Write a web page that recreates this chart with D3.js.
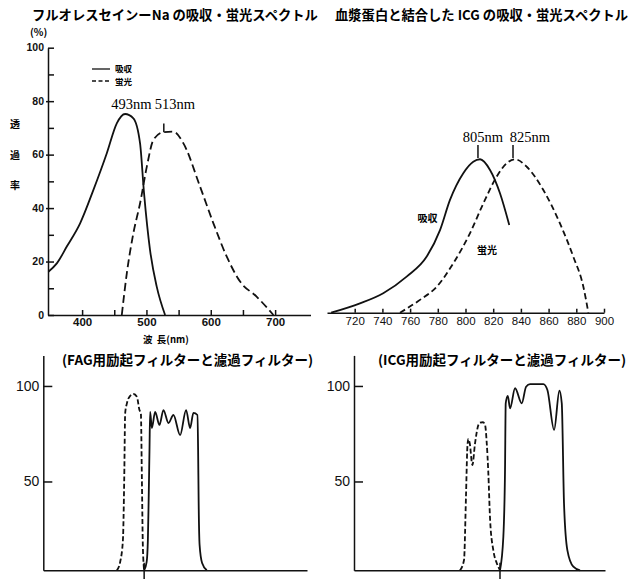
<!DOCTYPE html>
<html>
<head>
<meta charset="utf-8">
<script src="https://cdn.jsdelivr.net/npm/d3@7"></script>
<style>
body { margin: 0; background: #fff; }
svg { display: block; font-family: "Noto Sans CJK JP", "Liberation Sans", sans-serif; }
</style>
</head>
<body>
<div id="chart-area"></div>
<script>
/*
  four panels: fluorescein / ICG spectra on top, filter curves below
  values are [wavelength nm, %]
*/
var flAbs = [[347.6,16.2],[360.7,19.3],[376.2,25.6],[396.9,34.3],[417.6,46.8],[438.4,60.5],[453.9,71.7],
  [466.8,75.2],[479.7,73.6],[490.1,64.2],[496.3,45.5],[505.6,24.3],[516.0,10.6],[529,0]];
var flFluo = [[461.7,0],[469.5,15.6],[479.7,30.6],[490.2,41.9],[500.6,55.5],[510.8,65.5],[526.4,68.4],
  [541.9,68.6],[557.5,64.2],[583.4,48.0],[604.1,34.3],[624.9,21.8],[645.6,12.5],[671.6,6.8],[697.4,0]];
var icgAbs = [[703,0],[723.8,3.5],[740.6,7.3],[757.5,13.5],[772.0,21.0],[781.6,30.9],[788.8,42.2],
  [798.4,52.2],[805.6,56.5],[810.5,57.4],[817.7,53.4],[824.9,44.7],[831.6,32.8]];
var icgFluo = [[752.7,0],[767.1,4.8],[779.2,9.7],[791.2,18.5],[803.2,29.7],[812.9,40.9],[822.5,50.9],
  [829.7,55.9],[835.7,57.4],[844.2,54.6],[856.2,45.9],[868.2,33.4],[877.8,21.0],[885.1,9.7],[888.7,0]];

var fagExc = [[454.4,3.5],[459.6,8.0],[463.8,19.4],[465.8,50.8],[467.3,85.7],[470.0,90.9],[475.1,94.8],
  [480.2,95.8],[485.5,94.4],[489.5,87.4],[491.7,85.7],[493.3,50.8],[494.8,15.9],[496.8,3.5]];
var fagBar = [[496.8,3.5],[500.7,7.9],[502.6,19.4],[503.8,40.3],[505.1,66.5],[506.1,86.4],[508.8,78.0],
  [513.9,86.4],[520.6,79.6],[526.8,87.4],[534.6,80.6],[542.3,84.8],[552.7,74.3],[562.0,87.4],[568.3,78.0],
  [573.4,85.9],[579.6,84.8],[580.7,66.5],[581.5,40.3],[583.0,16.8],[586.9,7.3],[594.2,3.5]];
var icgExc = [[796.0,3.5],[798.9,8.9],[800.3,42],[801.3,68],[802.0,72.3],[803.0,70],[804.9,58.6],
  [806.8,70],[809.2,79.6],[810.4,80.8],[812.5,81],[814.0,79.6],[815.2,70],[816.3,55],[817.6,30],
  [819.9,14],[822.4,7.2],[824.7,3.5]];
var icgBar = [[824.7,3.5],[827.1,21.1],[828.3,56.0],[828.8,90.9],[830.3,94.8],[831.9,88.3],[835.5,98.8],
  [840.3,90.9],[843.4,99.6],[846.3,101],[855.8,101],[858.7,97.9],[863.5,77.0],[867.3,97.5],[869.0,90.9],
  [870.6,38.6],[873.0,14.1],[877.3,5.4],[882.1,3.5]];

var flTicksX = [400, 450, 500, 550, 600, 650, 700];
var icgTicksX = [720, 740, 760, 780, 800, 820, 840, 860, 880, 900];
var pctTicks = [0, 10, 20, 30, 40, 50, 60, 70, 80, 90, 100];
var pctLabels = [0, 20, 40, 60, 80, 100];
var filterTicks = [50, 100];
var flPeaks = ["493nm", "513nm"];
var icgPeaks = ["805nm", "825nm"];
var fagCut = 496.8, icgCut = 824.7;
var baseB = 3.5;

var svg = d3.select("#chart-area").append("svg")
	.attr("width", 630)
	.attr("height", 579);

function curve(g, data, x, y, dash) {
	var line = d3.line().x(function(d){ return x(d[0]); }).y(function(d){ return y(d[1]); })
		.curve(d3.curveMonotoneX);
	g.append("path").attr("d", line(data)).attr("fill", "none")
		.attr("stroke", "#111").attr("stroke-width", 1.8)
		.attr("stroke-dasharray", dash || null);
}
function styleAxis(g) {
	g.selectAll("path, line").attr("stroke", "#111").attr("stroke-width", 1.5);
	g.selectAll("text").attr("fill", "#111");
}

// ---------- top left: fluorescein ----------
var xTL = d3.scaleLinear().domain([347, 755]).range([48, 310.5]);
var yTL = d3.scaleLinear().domain([0, 100]).range([315, 47.7]);

var gx = svg.append("g").attr("transform", "translate(0," + yTL(0) + ")")
	.call(d3.axisBottom(xTL).tickValues(flTicksX).tickSize(-5).tickSizeOuter(0).tickPadding(3)
		.tickFormat(function(d){ return d % 100 === 0 ? d : ""; }));
gx.selectAll("text").attr("font-family", "Liberation Sans").attr("font-size", 11.5).attr("font-weight", "bold");
styleAxis(gx);

var gy = svg.append("g").attr("transform", "translate(" + xTL.range()[0] + ",0)")
	.call(d3.axisLeft(yTL).tickValues(pctTicks).tickSize(-6).tickSizeOuter(0).tickFormat(""));
gy.selectAll(".tick line").attr("x1", function(d){ return d % 20 === 0 && d > 0 && d < 100 ? -2 : 0; });
styleAxis(gy);

svg.append("g").selectAll("text").data(pctLabels).join("text")
	.attr("x", xTL.range()[0] - 4).attr("y", function(d){ return yTL(d); }).attr("dy", "0.35em")
	.attr("text-anchor", "end").attr("font-family", "Liberation Sans").attr("font-size", 10.5)
	.attr("font-weight", "bold").attr("fill", "#111").text(function(d){ return d; });

curve(svg, flAbs, xTL, yTL);
curve(svg, flFluo, xTL, yTL, "8,4");
svg.append("line").attr("x1", xTL(527)).attr("x2", xTL(527)).attr("y1", yTL(68.4)).attr("y2", yTL(71.6))
	.attr("stroke", "#111").attr("stroke-width", 1.5);

svg.append("text").attr("x", 32).attr("y", 20).attr("font-size", 13.3).attr("font-weight", "bold")
	.text("フルオレスセインーNa の吸収・蛍光スペクトル");
svg.append("text").attr("x", 30).attr("y", 36).attr("font-size", 10).attr("font-weight", "bold").text("(%)");
["透", "過", "率"].forEach(function(c, i) {
	svg.append("text").attr("x", 15).attr("y", 128 + i * 30.5).attr("text-anchor", "middle")
		.attr("font-size", 10).attr("font-weight", "bold").text(c);
});
svg.append("text").attr("x", 143).attr("y", 343).attr("font-size", 9.5).attr("font-weight", "bold")
	.attr("xml:space", "preserve").text("波  長(nm)");
svg.append("text").attr("x", 131.5).attr("y", 108.5).attr("text-anchor", "middle")
	.attr("font-family", "Liberation Serif").attr("font-size", 14.5).text(flPeaks[0]);
svg.append("text").attr("x", 175).attr("y", 108.5).attr("text-anchor", "middle")
	.attr("font-family", "Liberation Serif").attr("font-size", 14.5).text(flPeaks[1]);

// legend
svg.append("line").attr("x1", 92).attr("x2", 110).attr("y1", 69).attr("y2", 69)
	.attr("stroke", "#111").attr("stroke-width", 1.3);
svg.append("line").attr("x1", 92).attr("x2", 110).attr("y1", 81).attr("y2", 81)
	.attr("stroke", "#111").attr("stroke-width", 1.3).attr("stroke-dasharray", "4,2.5");
svg.append("text").attr("x", 115).attr("y", 72).attr("font-size", 8.5).attr("font-weight", "bold").text("吸収");
svg.append("text").attr("x", 115).attr("y", 84.5).attr("font-size", 8.5).attr("font-weight", "bold").text("蛍光");

// ---------- top right: ICG ----------
var xTR = d3.scaleLinear().domain([700, 900]).range([327, 604]);
var yTR = d3.scaleLinear().domain([0, 100]).range([312.7, 45.4]);

var gx2 = svg.append("g").attr("transform", "translate(0," + yTR(0) + ")")
	.call(d3.axisBottom(xTR).tickValues(icgTicksX).tickSize(-4).tickSizeOuter(0).tickPadding(4));
gx2.selectAll("text").attr("font-family", "Liberation Sans").attr("font-size", 11.5);
styleAxis(gx2);

curve(svg, icgAbs, xTR, yTR);
curve(svg, icgFluo, xTR, yTR, "6,3.5");
[809, 834.3].forEach(function(w) {
	svg.append("line").attr("x1", xTR(w)).attr("x2", xTR(w)).attr("y1", yTR(57.9)).attr("y2", yTR(62.7))
		.attr("stroke", "#111").attr("stroke-width", 1.5);
});
svg.append("text").attr("x", 335).attr("y", 20).attr("font-size", 13.3).attr("font-weight", "bold")
	.text("血漿蛋白と結合した ICG の吸収・蛍光スペクトル");
svg.append("text").attr("x", 483).attr("y", 141.5).attr("text-anchor", "middle")
	.attr("font-family", "Liberation Serif").attr("font-size", 14.5).text(icgPeaks[0]);
svg.append("text").attr("x", 530).attr("y", 141.5).attr("text-anchor", "middle")
	.attr("font-family", "Liberation Serif").attr("font-size", 14.5).text(icgPeaks[1]);
svg.append("text").attr("x", 427.5).attr("y", 221.5).attr("text-anchor", "middle")
	.attr("font-size", 10).attr("font-weight", "bold").text("吸収");
svg.append("text").attr("x", 487).attr("y", 253.5).attr("text-anchor", "middle")
	.attr("font-size", 10).attr("font-weight", "bold").text("蛍光");

// ---------- bottom: filters ----------
var yB = d3.scaleLinear().domain([baseB, 116]).range([570.3, 355.4]);
var xBL = d3.scaleLinear().domain([340, 750]).range([43.3, 307]);
var xBR = d3.scaleLinear().domain([720, 900]).range([354, 605]);

function filterPanel(x, exc, bar, cut, title, tx) {
	var g = svg.append("g");
	var ax = g.append("g").attr("transform", "translate(0," + yB(baseB) + ")")
		.call(d3.axisBottom(x).tickValues([]).tickSizeOuter(0));
	styleAxis(ax);
	var ay = g.append("g").attr("transform", "translate(" + x.range()[0] + ",0)")
		.call(d3.axisLeft(yB).tickValues(filterTicks).tickSize(-9).tickSizeOuter(0).tickPadding(4));
	ay.selectAll("text").attr("font-family", "Liberation Sans").attr("font-size", 14);
	styleAxis(ay);
	curve(g, exc, x, yB, "5,2.5");
	curve(g, bar, x, yB);
	g.append("line").attr("x1", x(cut)).attr("x2", x(cut)).attr("y1", yB(baseB + 4)).attr("y2", 579)
		.attr("stroke", "#111").attr("stroke-width", 1.5);
	g.append("text").attr("x", tx).attr("y", 365).attr("font-size", 13.5).attr("font-weight", "bold").text(title);
}
filterPanel(xBL, fagExc, fagBar, fagCut, "(FAG用励起フィルターと濾過フィルター)", 62);
filterPanel(xBR, icgExc, icgBar, icgCut, "(ICG用励起フィルターと濾過フィルター)", 378);
</script>
</body>
</html>
